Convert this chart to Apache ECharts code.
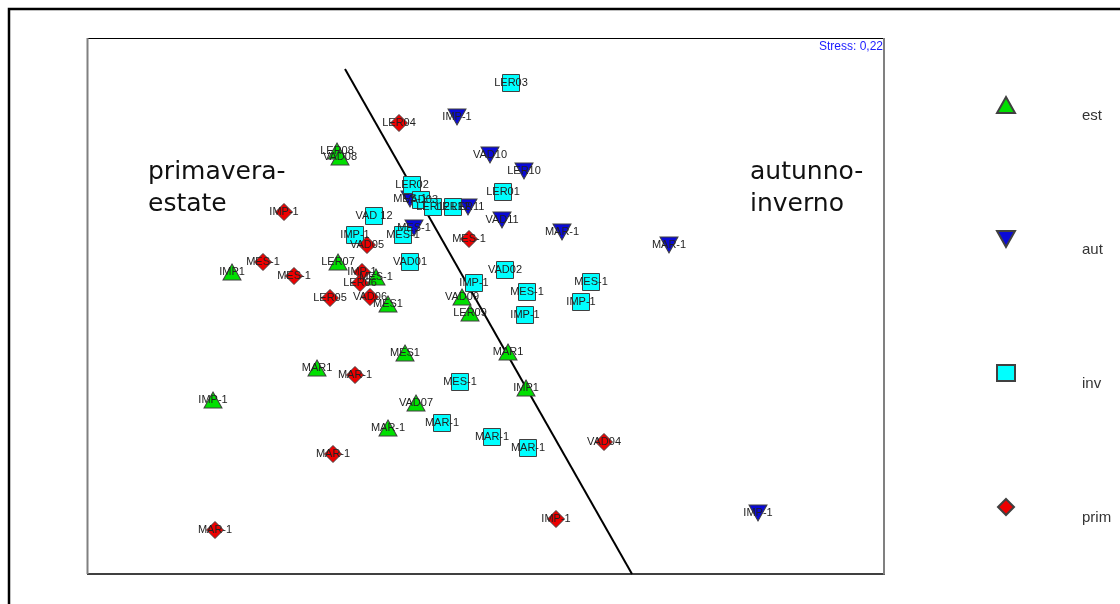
<!DOCTYPE html>
<html>
<head>
<meta charset="utf-8">
<script src="https://cdn.jsdelivr.net/npm/echarts@6/dist/echarts.min.js"></script>
<style>
  html, body { margin: 0; padding: 0; background: #fff; }
  #chart { width: 1120px; height: 604px; }
</style>
</head>
<body>
<div id="chart"></div>
<script>
// NMDS ordination, two axes in plot units (x 0..797, y 0..536)
const seasons = ['est', 'aut', 'inv', 'prim'];

// summer samples: [x, y, label]
const est = [
  [250, 423, 'LER08'], [253, 417, 'VAD08'], [145, 302, 'IMP1'], [251, 312, 'LER07'],
  [289, 297, 'MES-1'], [301, 270, 'MES1'], [375, 277, 'VAD09'], [383, 261, 'LER09'],
  [318, 221, 'MES1'], [421, 222, 'MAR1'], [230, 206, 'MAR1'], [439, 186, 'IMP1'],
  [126, 174, 'IMP-1'], [329, 171, 'VAD07'], [301, 146, 'MAR-1']
];

// autumn samples
const aut = [
  [370, 457, 'IMP-1'], [403, 419, 'VAD10'], [437, 403, 'LER10'], [381, 367, 'LER11'],
  [415, 354, 'VAD11'], [475, 342, 'MAR-1'], [582, 329, 'MAR-1'], [323, 375, 'MES-1'],
  [327, 346, 'MES-1'], [671, 61, 'IMP-1']
];

// winter samples
const inv = [
  [424, 491, 'LER03'], [325, 389, 'LER02'], [416, 382, 'LER01'], [334, 374, 'VAD03'],
  [346, 367, 'LER12'], [366, 367, 'LER12'], [287, 358, 'VAD 12'], [268, 339, 'IMP-1'],
  [316, 339, 'MES-1'], [323, 312, 'VAD01'], [418, 304, 'VAD02'], [387, 291, 'IMP-1'],
  [440, 282, 'MES-1'], [504, 292, 'MES-1'], [494, 272, 'IMP-1'], [438, 259, 'IMP-1'],
  [373, 192, 'MES-1'], [355, 151, 'MAR-1'], [405, 137, 'MAR-1'], [441, 126, 'MAR-1']
];

// spring samples
const prim = [
  [312, 451, 'LER04'], [197, 362, 'IMP-1'], [280, 329, 'VAD05'], [382, 335, 'MES-1'],
  [176, 312, 'MES-1'], [207, 298, 'MES-1'], [275, 302, 'IMP-1'], [273, 291, 'LER06'],
  [243, 276, 'LER05'], [283, 277, 'VAD06'], [268, 199, 'MAR-1'], [246, 120, 'MAR-1'],
  [517, 132, 'VAD04'], [469, 55, 'IMP-1'], [128, 44, 'MAR-1']
];

// dividing line between the two seasonal groups
const divider = [[258, 505], [545, 0]];

const groupTexts = [
  { lines: ['primavera-', 'estate'], x: 148 },
  { lines: ['autunno-', 'inverno'], x: 750 }
];

const stressText = 'Stress: 0,22';

const GRID = { left: 87, top: 38, width: 797, height: 536 };

const styles = {
  est:  { color: '#00e000', symbol: 'triangle', size: [18, 16] },
  aut:  { color: '#0a0ad6', symbol: 'path://M0,0L2,0L1,1.78Z', size: [18, 16] },
  inv:  { color: '#00ffff', symbol: 'rect', size: [17, 17] },
  prim: { color: '#ee0000', symbol: 'path://M0,-1L1,0L0,1L-1,0Z', size: [17, 17] }
};
const seriesData = { est, aut, inv, prim };

const chart = echarts.init(document.getElementById('chart'), null, { renderer: 'canvas' });

const series = seasons.map(name => ({
  name,
  type: 'scatter',
  symbol: styles[name].symbol,
  symbolSize: styles[name].size,
  itemStyle: { color: styles[name].color, borderColor: '#404040', borderWidth: 1, opacity: 1 },
  label: {
    show: true,
    position: 'inside',
    formatter: p => p.data[2],
    fontFamily: 'Liberation Sans, Arial, sans-serif',
    fontSize: 11,
    color: '#222'
  },
  emphasis: { disabled: true },
  data: seriesData[name]
}));

series.push({
  name: 'divider',
  type: 'line',
  data: divider,
  symbol: 'none',
  silent: true,
  lineStyle: { color: '#000', width: 2 },
  z: 1
});

const graphics = [
  // outer frame
  { type: 'polyline', shape: { points: [[9, 610], [9, 9], [1130, 9]] },
    style: { stroke: '#000', lineWidth: 2.5, fill: null } },
  // plot frame
  { type: 'line', shape: { x1: 87, y1: 38.5, x2: 885, y2: 38.5 }, style: { stroke: '#000', lineWidth: 1 } },
  { type: 'line', shape: { x1: 87, y1: 574, x2: 885, y2: 574 }, style: { stroke: '#000', lineWidth: 1.5 } },
  { type: 'line', shape: { x1: 87.5, y1: 38, x2: 87.5, y2: 574 }, style: { stroke: '#808080', lineWidth: 2 } },
  { type: 'line', shape: { x1: 884, y1: 38, x2: 884, y2: 574.5 }, style: { stroke: '#808080', lineWidth: 2 } }
];

groupTexts.forEach(g => {
  g.lines.forEach((t, i) => {
    graphics.push({
      type: 'text', left: g.x, top: 160 + i * 32, z: 10,
      style: { text: t, fontFamily: 'DejaVu Sans, Verdana, sans-serif', fontSize: 25, fill: '#111' }
    });
  });
});

chart.setOption({
  animation: false,
  backgroundColor: '#fff',
  title: {
    text: stressText,
    right: 237, top: 41,
    padding: 0,
    textStyle: { fontFamily: 'Liberation Sans, Arial, sans-serif', fontSize: 12, fontWeight: 'normal', color: '#1a1aff' }
  },
  grid: { left: GRID.left, top: GRID.top, width: GRID.width, height: GRID.height, containLabel: false },
  xAxis: { type: 'value', min: 0, max: 797, show: false },
  yAxis: { type: 'value', min: 0, max: 536, show: false },
  legend: {
    orient: 'vertical',
    left: 991, top: 78,
    itemWidth: 18, itemHeight: 16,
    itemGap: 90,
    selectedMode: false,
    data: seasons,
    formatter: name => '\n' + name,
    textStyle: {
      fontFamily: 'Liberation Sans, Arial, sans-serif',
      fontSize: 15,
      lineHeight: 22,
      color: '#333',
      padding: [0, 0, 0, 62]
    }
  },
  series,
  graphic: graphics
});
</script>
</body>
</html>
